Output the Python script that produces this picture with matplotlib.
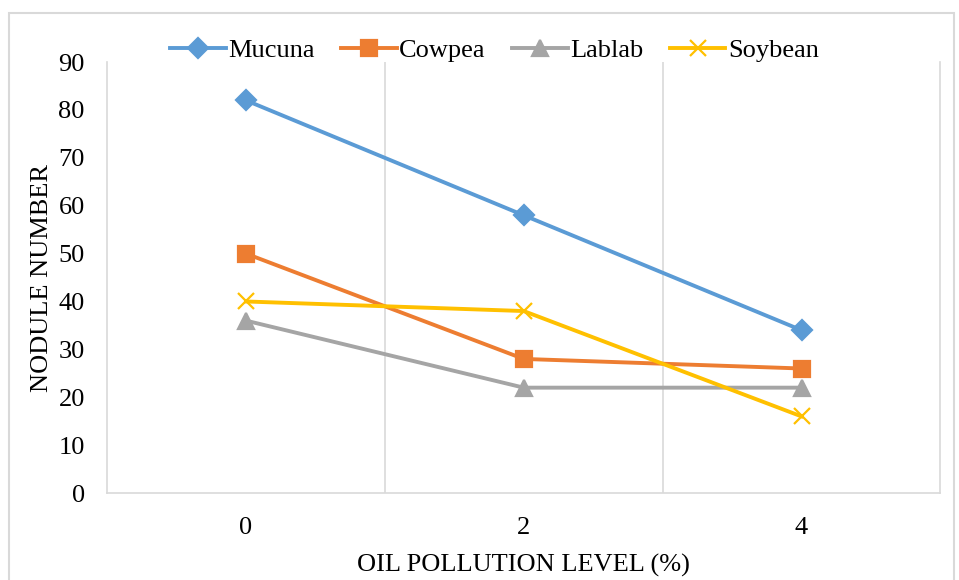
import numpy as np
import matplotlib.pyplot as plt
from matplotlib.patches import Rectangle

plt.rcParams["font.family"] = ["Liberation Serif", "DejaVu Serif"]

levels = ["0", "2", "4"]
mucuna = [82, 58, 34]
cowpea = [50, 28, 26]
lablab = [36, 22, 22]
soybean = [40, 38, 16]

series = [
    ("Mucuna", mucuna, "#5B9BD5", "D", 10),
    ("Cowpea", cowpea, "#ED7D31", "s", 11.5),
    ("Lablab", lablab, "#A5A5A5", "^", 12),
    ("Soybean", soybean, "#FFC000", "x", 11),
]

fig = plt.figure(figsize=(9.59, 5.8), dpi=100)
ax = fig.add_axes([0.1116, 0.15, 0.869, 0.743])

x = np.arange(len(levels))
for name, vals, col, mk, ms in series:
    ax.plot(x, vals, color=col, lw=2.8, marker=mk, ms=ms, mew=1.6,
            label=name, zorder=3)

ax.set_xlim(-0.5, len(levels) - 0.5)
ax.set_ylim(0, 90)
ax.set_yticks(np.arange(0, 91, 10))
ax.set_xticks(x)
ax.set_xticklabels(levels)
ax.set_xticks(np.arange(0.5, len(levels) - 0.5, 1), minor=True)
ax.grid(True, which="minor", axis="x", color="#D9D9D9", lw=1.2)
ax.tick_params(which="both", length=0, labelsize=19)
ax.tick_params(axis="x", pad=17)
ax.tick_params(axis="y", pad=16)

for side in ["left", "right", "bottom"]:
    ax.spines[side].set_color("#D9D9D9")
    ax.spines[side].set_linewidth(1.2)
ax.spines["top"].set_visible(False)

ax.set_xlabel("OIL POLLUTION LEVEL (%)", fontsize=19, labelpad=11)
ax.set_ylabel("NODULE NUMBER", fontsize=19, labelpad=4)

ax.legend(loc="lower center", bbox_to_anchor=(0.465, 0.975), ncol=4,
          frameon=False, fontsize=19, handlelength=2.1, handletextpad=0.1,
          columnspacing=1.0, borderaxespad=0.0)

fig.patches.append(Rectangle((9 / 959, -0.1), 945 / 959, 1.1 - 13 / 580,
                             transform=fig.transFigure, fill=False,
                             edgecolor="#D9D9D9", lw=1.5))

fig.savefig("out.png", dpi=100)
